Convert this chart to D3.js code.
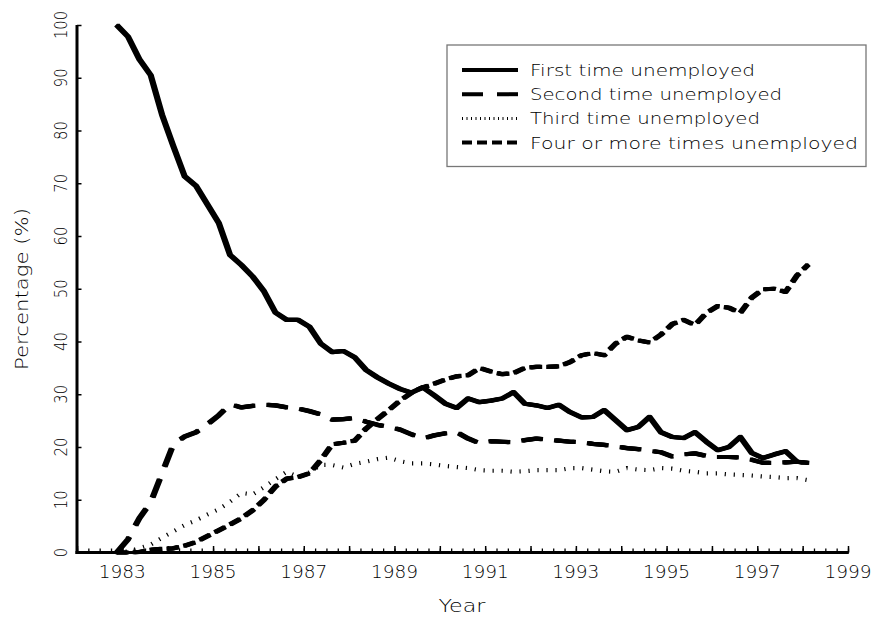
<!DOCTYPE html>
<html>
<head>
<meta charset="utf-8">
<script src="https://cdn.jsdelivr.net/npm/d3@7"></script>
<style>
  html, body { margin: 0; padding: 0; background: #fff; }
  svg { display: block; }
  text { font-family: "DejaVu Sans", "Liberation Sans", sans-serif; font-weight: 200; fill: #000; }
</style>
</head>
<body>
<svg id="chart" width="893" height="619"></svg>
<script>
// ---------------- DATA (quarterly, 1983 Q1 .. 1998 Q2) ----------------
const firstQuarterYear = 1983;
const nQuarters = 62;

const firstTime = [100, 97.8, 93.5, 90.5, 83, 77, 71.3, 69.5, 66, 62.5,
  56.4, 54.5, 52.3, 49.5, 45.5, 44.1, 44.1, 42.8, 39.6, 38,
  38.2, 37, 34.6, 33.2, 32, 31, 30.3, 31.3, 29.8, 28.2,
  27.4, 29.2, 28.5, 28.8, 29.2, 30.4, 28.2, 27.9, 27.4, 28,
  26.6, 25.6, 25.7, 27, 25.1, 23.2, 23.8, 25.7, 22.8, 21.9,
  21.7, 22.8, 21, 19.4, 20, 21.9, 18.9, 17.9, 18.6, 19.2,
  17.2, 17];

const secondTime = [0, 2.5, 6.5, 9.5, 15, 20.5, 22, 22.8, 24.3, 26,
  28.1, 27.5, 27.8, 28, 27.9, 27.5, 27.3, 26.8, 26.2, 25.2,
  25.3, 25.5, 24.8, 24.2, 23.8, 23.3, 22.4, 21.6, 22.2, 22.6,
  22.8, 21.6, 20.7, 21.1, 21.0, 20.9, 21.3, 21.6, 21.4, 21.2,
  21.0, 20.9, 20.6, 20.4, 20.1, 19.8, 19.6, 19.3, 19.0, 18.2,
  18.6, 18.8, 18.3, 18.1, 18.1, 18.0, 17.6, 17.0, 17.0, 17.1,
  17.2, 17.0];

const thirdTime = [0, 0.2, 0.8, 1.5, 2.8, 4, 5.2, 6.1, 7.2, 8.2,
  9.6, 11.3, 11.0, 12.4, 13.9, 15.3, 14.3, 15.2, 16.6, 16.6,
  16.1, 16.8, 17.2, 17.7, 18.0, 17.3, 16.9, 16.9, 16.7, 16.4,
  16.2, 16, 15.6, 15.5, 15.5, 15.3, 15.4, 15.6, 15.6, 15.6,
  16, 16, 15.7, 15.4, 15.3, 16, 15.7, 15.6, 16, 15.9,
  15.5, 15.3, 15.0, 15.0, 14.8, 14.7, 14.6, 14.4, 14.3, 14.1,
  14.1, 13.7];

const fourPlus = [0, 0, 0.1, 0.5, 0.7, 0.8, 1.3, 2.0, 3.1, 4.2,
  5.3, 6.5, 8.0, 10.0, 12.5, 14.0, 14.3, 15.0, 17.5, 20.5,
  20.8, 21.2, 23.5, 25.3, 27.0, 28.8, 30.3, 31.3, 32.0, 32.8,
  33.4, 33.6, 35.0, 34.3, 33.8, 34.0, 35.0, 35.2, 35.2, 35.3,
  36.1, 37.4, 37.8, 37.4, 39.6, 40.9, 40.2, 39.8, 41.3, 43.3,
  44.1, 43.1, 45.4, 46.7, 46.4, 45.4, 48.3, 49.9, 50.0, 49.4,
  52.5, 54.6];

const seriesNames = ["First time unemployed", "Second time unemployed",
  "Third time unemployed", "Four or more times unemployed"];

const xTickYears = [1983, 1985, 1987, 1989, 1991, 1993, 1995, 1997, 1999];
const yTickValues = [0, 10, 20, 30, 40, 50, 60, 70, 80, 90, 100];
const xTitle = "Year";
const yTitle = "Percentage (%)";

// ---------------- LAYOUT ----------------
const svg = d3.select("#chart");
const pLeft = 77, pRight = 848, pTop = 25, pBottom = 552.5;

const x = d3.scaleLinear().domain([1982, 1999]).range([pLeft, pRight]);
const y = d3.scaleLinear().domain([0, 100]).range([pBottom, pTop]);

// each quarter plotted at its centre relative to the year mark
const quarterTimes = d3.range(nQuarters).map(i => firstQuarterYear + i / 4 - 0.125);

const styles = [
  { dash: null, width: 4.2, offsets: [-1, 0, 1] },
  { dash: "20,13", width: 4.2, offsets: [-1, 0, 1] },
  { dash: "1.2,7.8", width: 4.2, offsets: [0] },
  { dash: "11,6", width: 4.2, offsets: [-1, 0, 1] }
];
const seriesValues = [firstTime, secondTime, thirdTime, fourPlus];

const line = d3.line()
  .x((d, i) => x(quarterTimes[i]))
  .y(d => y(d));

const plot = svg.append("g");
seriesValues.forEach((vals, si) => {
  const st = styles[si];
  st.offsets.forEach(dx => {
    plot.append("path")
      .datum(vals)
      .attr("transform", `translate(${dx},0)`)
      .attr("fill", "none")
      .attr("stroke", "#000")
      .attr("stroke-width", st.width)
      .attr("stroke-linejoin", "round")
      .attr("stroke-linecap", "butt")
      .attr("stroke-dasharray", st.dash)
      .attr("d", line);
  });
});

// ---------------- AXES ----------------
const xMinor = d3.range(1982, 1999.001, 0.25);
const xAxisG = svg.append("g").attr("transform", `translate(0,${pBottom})`);
xAxisG.call(d3.axisBottom(x).tickValues(xMinor).tickSize(-4).tickFormat(""))
  .call(g => g.select(".domain").remove())
  .selectAll("line").attr("stroke-width", 1.3);
const xMajorG = svg.append("g").attr("transform", `translate(0,${pBottom})`);
xMajorG.call(d3.axisBottom(x).tickValues(d3.range(1982, 2000)).tickSize(-6.5).tickFormat(""))
  .call(g => g.select(".domain").remove())
  .selectAll("line").attr("stroke-width", 1.5);

svg.append("line").attr("x1", pLeft - 1.5).attr("x2", pRight + 0.8)
  .attr("y1", pBottom).attr("y2", pBottom)
  .attr("stroke", "#000").attr("stroke-width", 3);

svg.append("g").selectAll("text").data(xTickYears).join("text")
  .attr("x", d => x(d)).attr("y", 577.5)
  .attr("text-anchor", "middle")
  .attr("font-size", 17)
  .attr("textLength", 47).attr("lengthAdjust", "spacingAndGlyphs")
  .text(d => d);

const yAxisG = svg.append("g").attr("transform", `translate(${pLeft},0)`);
yAxisG.call(d3.axisLeft(y).tickValues(yTickValues).tickSize(-4.5).tickFormat(""))
  .call(g => g.select(".domain").remove())
  .selectAll("line").attr("stroke-width", 1.5);
svg.append("line").attr("x1", pLeft).attr("x2", pLeft)
  .attr("y1", pTop).attr("y2", pBottom + 1.5)
  .attr("stroke", "#000").attr("stroke-width", 3);

svg.append("g").selectAll("text").data(yTickValues).join("text")
  .attr("transform", d => `translate(67,${y(d)}) rotate(-90)`)
  .attr("text-anchor", "middle")
  .attr("font-size", 17)
  .attr("textLength", d => String(d).length * 9.4)
  .attr("lengthAdjust", "spacingAndGlyphs")
  .text(d => d);

svg.append("text")
  .attr("x", 462).attr("y", 612)
  .attr("text-anchor", "middle")
  .attr("font-size", 17)
  .attr("textLength", 47).attr("lengthAdjust", "spacingAndGlyphs")
  .text(xTitle);

svg.append("text")
  .attr("transform", `translate(28,289) rotate(-90)`)
  .attr("text-anchor", "middle")
  .attr("font-size", 17)
  .attr("textLength", 162).attr("lengthAdjust", "spacingAndGlyphs")
  .text(yTitle);

// ---------------- LEGEND ----------------
const legend = svg.append("g");
legend.append("rect")
  .attr("x", 447).attr("y", 45).attr("width", 419).attr("height", 121.5)
  .attr("fill", "#fff").attr("stroke", "#777").attr("stroke-width", 1.3);

const legendDash = [null, "21,14", "1,3.5", "10,5"];
const legendWidths = [4, 4, 3, 4];
const legendTextLen = [225, 252, 230, 328];
seriesNames.forEach((name, i) => {
  const cy = 70 + i * 24.2;
  legend.append("line")
    .attr("x1", 462).attr("x2", 518).attr("y1", cy).attr("y2", cy)
    .attr("stroke", "#000").attr("stroke-width", legendWidths[i])
    .attr("stroke-dasharray", legendDash[i]);
  legend.append("text")
    .attr("x", 530).attr("y", cy + 6)
    .attr("font-size", 16)
    .attr("textLength", legendTextLen[i]).attr("lengthAdjust", "spacingAndGlyphs")
    .text(name);
});
</script>
</body>
</html>
